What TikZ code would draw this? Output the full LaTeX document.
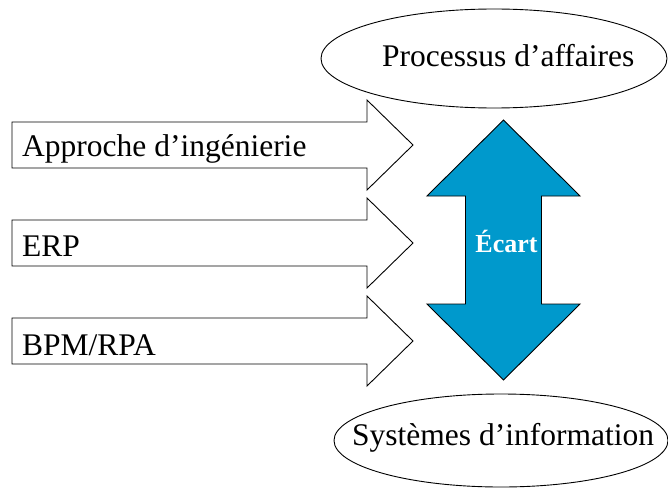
\documentclass[tikz,border=0pt]{standalone}
\usepackage{fontspec}
\setmainfont{Liberation Serif}
\begin{document}
\begin{tikzpicture}[x=1pt,y=-1pt,
  outl/.style={draw=black,line width=0.9pt,line join=miter},
  lbl/.style={font=\fontsize{31.5}{36}\selectfont,inner sep=0pt,anchor=base west},
  blue/.style={fill={rgb,255:red,0;green,153;blue,204}}]
\useasboundingbox (0,0) rectangle (668,492);
% ellipses
\draw[outl] (494,58.5) ellipse [x radius=173, y radius=49.5];
\node[lbl] (proc) at (382,67) {Processus d’affaires};
\draw[outl] (501,440.5) ellipse [x radius=167, y radius=46.5];
\node[lbl] (sys) at (352,445) {Systèmes d’information};
% right arrows
\foreach \t/\c in {122/1,220/2,318/3}{
  \draw[outl,fill=white] (12,\t) -- (367,\t) -- (367,\t-22) -- (413,\t+23) -- (367,\t+68) -- (367,\t+46) -- (12,\t+46) -- cycle;
}
\node[lbl] (ing) at (22,156) {Approche d’ingénierie};
\node[lbl] (erp) at (22,256) {ERP};
\node[lbl] (bpm) at (22,355) {BPM/RPA};
% double arrow
\draw[outl,blue] (503.5,120) -- (580,196) -- (541.5,196) -- (541.5,304) -- (580,304) -- (503.5,380) -- (427,304) -- (465.5,304) -- (465.5,196) -- (427,196) -- cycle;
\node[font=\fontsize{26}{30}\selectfont\bfseries,text=white,inner sep=0pt,anchor=base] (ecart) at (506.5,252) {Écart};
\end{tikzpicture}
\end{document}
